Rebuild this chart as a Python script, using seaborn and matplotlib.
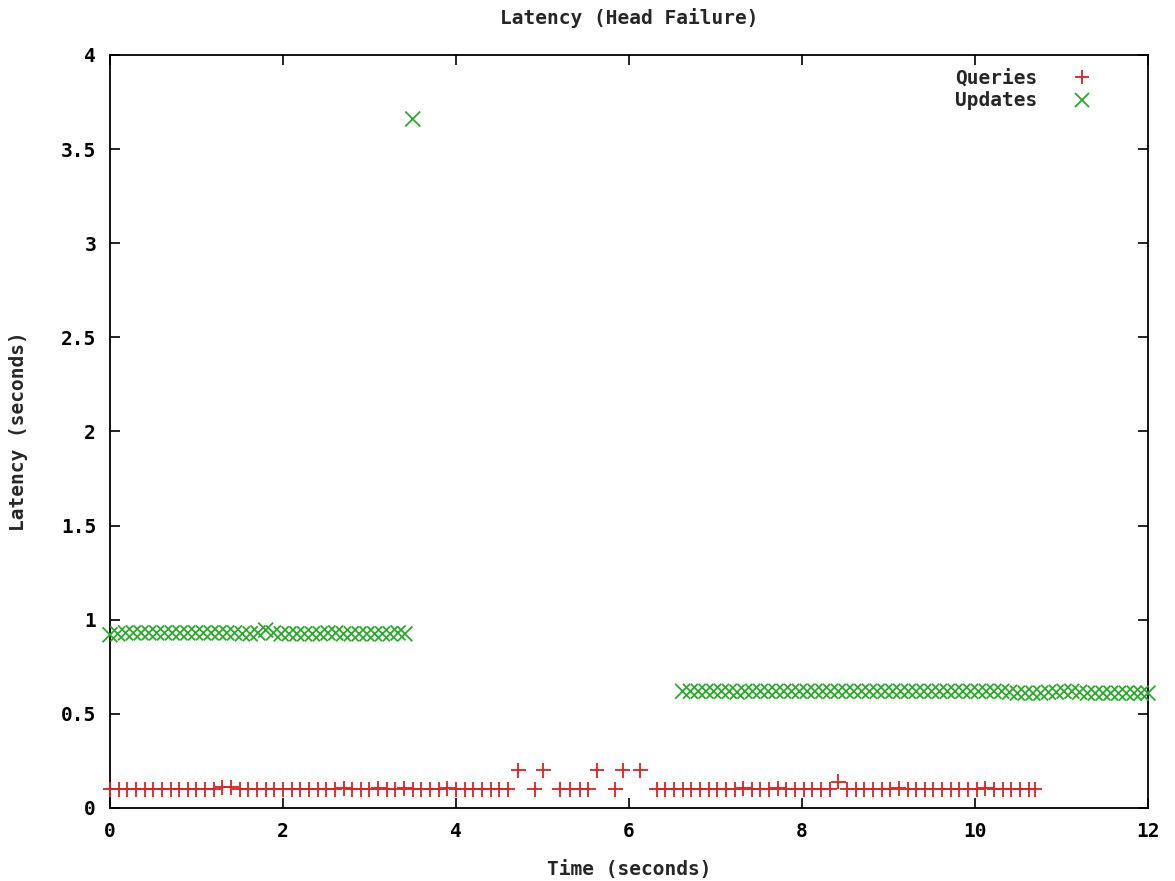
import matplotlib
matplotlib.use("Agg")
import matplotlib.pyplot as plt
import pandas as pd
import seaborn as sns
from matplotlib.lines import Line2D

# Query latency samples (time in s, latency in s)
query_times = [
    0.0, 0.1, 0.2, 0.3, 0.4, 0.5, 0.6, 0.7, 0.8, 0.9, 1.0, 1.1, 1.2, 1.3, 1.4,
    1.5, 1.6, 1.7, 1.8, 1.9, 2.0, 2.1, 2.2, 2.3, 2.4, 2.5, 2.6, 2.7, 2.8, 2.9,
    3.0, 3.1, 3.2, 3.3, 3.4, 3.5, 3.6, 3.7, 3.8, 3.9, 4.0, 4.1, 4.2, 4.3, 4.4,
    4.5, 4.6,
    4.72, 4.91, 5.01, 5.2, 5.32, 5.43, 5.53, 5.63, 5.84, 5.93, 6.13,
    6.32, 6.42, 6.52, 6.62, 6.72, 6.82, 6.92, 7.02, 7.12, 7.22, 7.32, 7.42,
    7.52, 7.62, 7.72, 7.82, 7.92, 8.02, 8.12, 8.22, 8.32, 8.42, 8.52, 8.62,
    8.72, 8.82, 8.92, 9.02, 9.12, 9.22, 9.32, 9.42, 9.52, 9.62, 9.72, 9.82,
    9.92, 10.02, 10.12, 10.22, 10.32, 10.42, 10.52, 10.62, 10.69,
]
query_latency = [
    0.1, 0.1, 0.1, 0.1, 0.1, 0.1, 0.1, 0.1, 0.1, 0.1, 0.1, 0.1, 0.1, 0.11, 0.11,
    0.1, 0.1, 0.1, 0.1, 0.1, 0.1, 0.1, 0.1, 0.1, 0.1, 0.1, 0.1, 0.105, 0.1, 0.1,
    0.1, 0.105, 0.1, 0.1, 0.105, 0.1, 0.1, 0.1, 0.1, 0.105, 0.1, 0.1, 0.1, 0.1, 0.1,
    0.1, 0.1,
    0.2, 0.1, 0.2, 0.1, 0.1, 0.1, 0.1, 0.2, 0.1, 0.2, 0.2,
    0.1, 0.1, 0.1, 0.1, 0.1, 0.1, 0.1, 0.1, 0.1, 0.1, 0.105, 0.1,
    0.1, 0.1, 0.105, 0.1, 0.1, 0.1, 0.1, 0.1, 0.1, 0.14, 0.1, 0.1,
    0.1, 0.1, 0.1, 0.1, 0.105, 0.1, 0.1, 0.1, 0.1, 0.1, 0.1, 0.1,
    0.1, 0.1, 0.105, 0.1, 0.1, 0.1, 0.1, 0.1, 0.1,
]

# Update latency samples (time in s, latency in s)
update_times = [
    0.0, 0.09, 0.18, 0.27, 0.36, 0.45, 0.54, 0.63, 0.72, 0.81, 0.9, 0.99, 1.08,
    1.17, 1.26, 1.35, 1.44, 1.53, 1.62, 1.71, 1.8, 1.89, 1.98, 2.07, 2.16, 2.25,
    2.34, 2.43, 2.52, 2.61, 2.7, 2.79, 2.88, 2.97, 3.06, 3.15, 3.24, 3.33, 3.41,
    3.5,
    6.62, 6.71, 6.8, 6.89, 6.98, 7.07, 7.16, 7.25, 7.34, 7.43, 7.52, 7.61, 7.7,
    7.79, 7.88, 7.97, 8.06, 8.15, 8.24, 8.33, 8.42, 8.51, 8.6, 8.69, 8.78, 8.87,
    8.96, 9.05, 9.14, 9.23, 9.32, 9.41, 9.5, 9.59, 9.68, 9.77, 9.86, 9.95, 10.04,
    10.13, 10.22, 10.31, 10.4, 10.49, 10.58, 10.67, 10.76, 10.85, 10.94, 11.03,
    11.12, 11.21, 11.3, 11.39, 11.48, 11.57, 11.66, 11.75, 11.84, 11.92, 12.0,
]
update_latency = [
    0.92, 0.925, 0.93, 0.93, 0.93, 0.93, 0.93, 0.93, 0.93, 0.93, 0.93, 0.93, 0.93,
    0.93, 0.93, 0.93, 0.93, 0.925, 0.925, 0.93, 0.945, 0.93, 0.925, 0.925, 0.925, 0.925,
    0.925, 0.925, 0.93, 0.93, 0.925, 0.925, 0.925, 0.925, 0.925, 0.925, 0.925, 0.93, 0.925,
    3.66,
    0.62, 0.62, 0.62, 0.62, 0.62, 0.62, 0.62, 0.615, 0.62, 0.62, 0.62, 0.62, 0.62,
    0.62, 0.62, 0.62, 0.62, 0.62, 0.62, 0.62, 0.62, 0.62, 0.62, 0.62, 0.62, 0.62,
    0.62, 0.62, 0.62, 0.62, 0.62, 0.62, 0.62, 0.62, 0.62, 0.62, 0.62, 0.62, 0.62,
    0.62, 0.62, 0.62, 0.615, 0.61, 0.61, 0.61, 0.61, 0.615, 0.615, 0.62,
    0.62, 0.615, 0.61, 0.61, 0.61, 0.61, 0.61, 0.61, 0.61, 0.61, 0.61,
]

series_names = ["Queries", "Updates"]
series_colors = {"Queries": "#dd2020", "Updates": "#2aaa2a"}
series_markers = {"Queries": "+", "Updates": "x"}

x_ticks = [0, 2, 4, 6, 8, 10, 12]
y_ticks = [0, 0.5, 1, 1.5, 2, 2.5, 3, 3.5, 4]
y_tick_labels = ["0", "0.5", "1", "1.5", "2", "2.5", "3", "3.5", "4"]

df = pd.concat([
    pd.DataFrame({"time": query_times, "latency": query_latency, "series": "Queries"}),
    pd.DataFrame({"time": update_times, "latency": update_latency, "series": "Updates"}),
], ignore_index=True)

sns.set_theme(style="ticks")
plt.rcParams["font.family"] = ["DejaVu Sans Mono", "DejaVu Sans"]
plt.rcParams["font.weight"] = "bold"

FS = 14

fig = plt.figure(figsize=(11.75, 8.81), dpi=100)
ax = fig.add_axes([0.0936, 0.0829, 0.8834, 0.8547])

sns.scatterplot(
    data=df, x="time", y="latency", hue="series", style="series",
    hue_order=series_names, style_order=series_names,
    palette=series_colors, markers=series_markers,
    s=115, linewidth=1.3, legend=False, ax=ax, clip_on=False, zorder=3,
)

ax.set_xlim(0, 12)
ax.set_ylim(0, 4)
ax.set_xticks(x_ticks)
ax.set_xticklabels([str(t) for t in x_ticks])
ax.set_yticks(y_ticks)
ax.set_yticklabels(y_tick_labels)
ax.tick_params(axis="both", which="major", direction="in", length=7, width=1.2,
               top=True, right=True, labelsize=FS, colors="black", pad=10)
for lab in ax.get_xticklabels() + ax.get_yticklabels():
    lab.set_fontweight("bold")
for sp in ax.spines.values():
    sp.set_visible(True)
    sp.set_linewidth(1.3)
    sp.set_color("black")

ax.set_xlabel("Time (seconds)", fontsize=FS, fontweight="bold", labelpad=14)
ax.set_ylabel("Latency (seconds)", fontsize=FS, fontweight="bold", labelpad=24)
ax.set_title("Latency (Head Failure)", fontsize=FS, fontweight="bold", pad=22)

handles = [
    Line2D([], [], linestyle="none", marker=series_markers[n], color=series_colors[n],
           markersize=10, markeredgewidth=1.3)
    for n in series_names
]
leg = ax.legend(handles, series_names, loc="upper right", bbox_to_anchor=(0.968, 1.0),
                frameon=False, markerfirst=False, fontsize=FS, handletextpad=1.3,
                labelspacing=0.2, borderaxespad=0.3)
for t in leg.get_texts():
    t.set_fontweight("bold")

fig.savefig("out.png", dpi=100, facecolor="white")
